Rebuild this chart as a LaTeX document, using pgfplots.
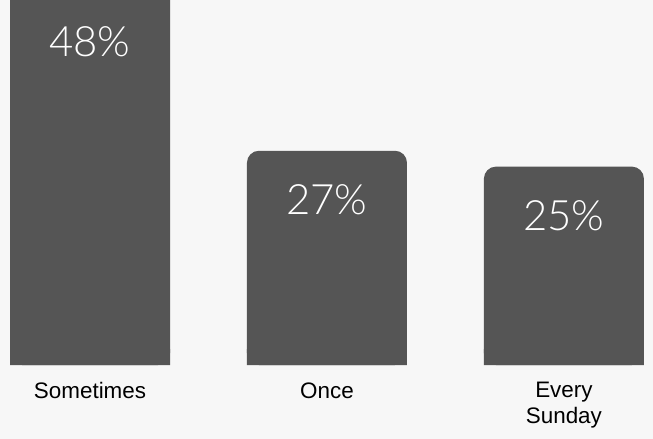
\documentclass[border=0pt]{standalone}
\usepackage{pgfplots}
\pgfplotsset{compat=1.18}
\usepackage{fontspec}
\setmainfont{Liberation Sans}
\newfontfamily\lightfont{Lato Light}
\definecolor{bg}{HTML}{F7F7F7}
\definecolor{barc}{HTML}{555555}
\begin{document}
\begin{tikzpicture}
\fill[bg] (0bp,0bp) rectangle (653bp,439bp);
\useasboundingbox (0bp,0bp) rectangle (653bp,439bp);
\begin{axis}[
  at={(0bp,74bp)}, anchor=south west,
  scale only axis, width=653bp, height=365bp,
  xmin=-0.38, xmax=2.376, ymin=0, ymax=46,
  clip=false,
  axis line style={draw=none},
  major tick length=0pt,
  ytick=\empty,
  xtick={0,1,2},
  xticklabels={Sometimes, Once, {Every\\Sunday}},
  xticklabel style={align=center, font=\fontsize{22.5}{26}\selectfont, text=black, yshift=-14bp},
  ybar, bar width=160bp, /pgf/bar shift=0pt,
]
\addplot[fill=barc, draw=none, rounded corners=12bp,
  visualization depends on={y \as \rawy},
  nodes near coords={\pgfmathprintnumber[assume math mode=true]{\pgfplotspointmeta}\%},
  every node near coord/.append style={font=\lightfont\fontsize{42}{50}\selectfont, text=white, anchor=center, yshift={(\rawy>40)*(-9)-49}},
] coordinates {(0,48) (1,27) (2,25)};
\addplot[fill=barc, draw=none] coordinates {(0,2) (1,2) (2,2)};
\end{axis}
\end{tikzpicture}
\end{document}
